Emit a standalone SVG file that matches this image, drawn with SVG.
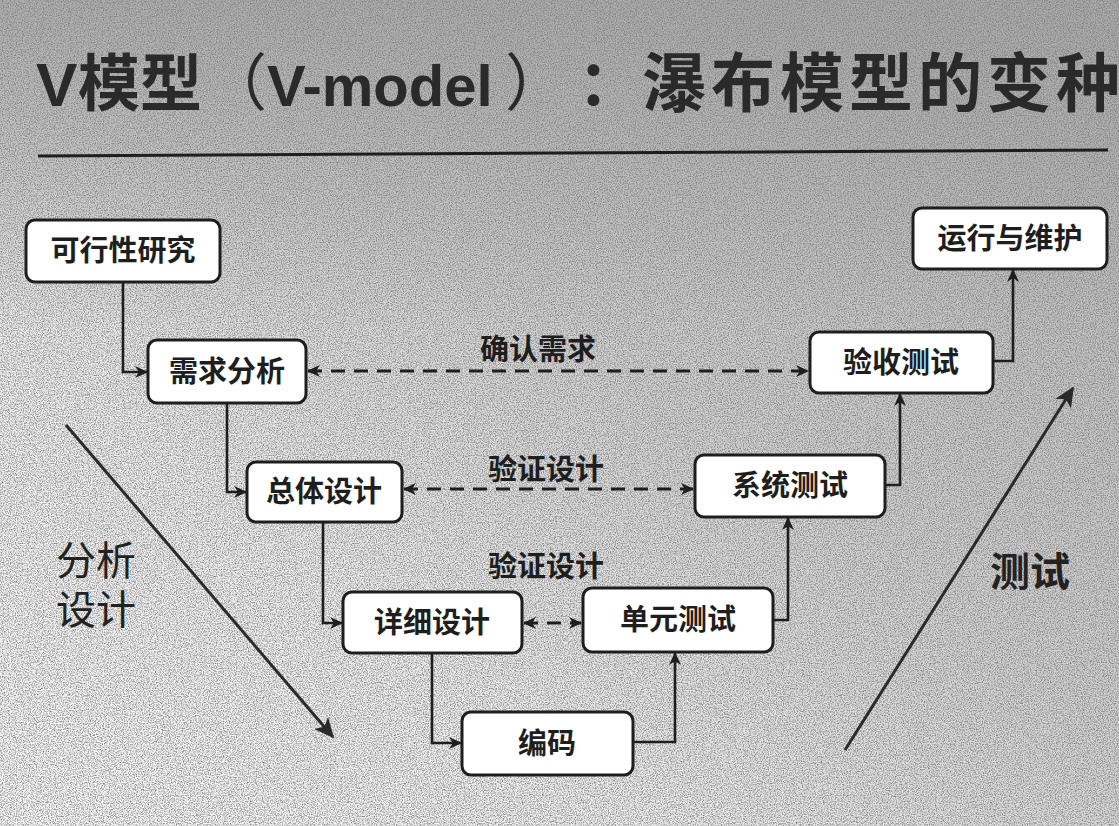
<svg xmlns="http://www.w3.org/2000/svg" width="1119" height="826" viewBox="0 0 1119 826">
<defs>
  <linearGradient id="bg" x1="0" y1="1" x2="1" y2="0">
    <stop offset="0" stop-color="#fafafa"/>
    <stop offset="0.3" stop-color="#ededed"/>
    <stop offset="0.55" stop-color="#d2d2d2"/>
    <stop offset="1" stop-color="#b6b6b6"/>
  </linearGradient>
  <linearGradient id="top" x1="0" y1="0" x2="0" y2="1">
    <stop offset="0" stop-color="#a8a8a8" stop-opacity="0.85"/>
    <stop offset="1" stop-color="#a8a8a8" stop-opacity="0"/>
  </linearGradient>
  <filter id="grain" x="0" y="0" width="100%" height="100%">
    <feTurbulence type="fractalNoise" baseFrequency="0.85" numOctaves="2" seed="3" result="n"/>
    <feColorMatrix in="n" type="matrix" values="0 0 0 0 0.2  0 0 0 0 0.2  0 0 0 0 0.2  0 0 0 -2.2 1.35"/>
  </filter>
  <marker id="arr" viewBox="0 0 12 12" refX="11" refY="6" markerWidth="13" markerHeight="13" markerUnits="userSpaceOnUse" orient="auto-start-reverse">
    <path d="M0,0.5 L12,6 L0,11.5 L3.5,6 z" fill="#1e1e1e"/>
  </marker>
  <marker id="big" viewBox="0 0 12 12" refX="11" refY="6" markerWidth="20" markerHeight="20" markerUnits="userSpaceOnUse" orient="auto">
    <path d="M0,0.5 L12,6 L0,11.5 L3,6 z" fill="#2a2a2a"/>
  </marker>
  <style>
    .box { fill: #ffffff; stroke: #1e1e1e; stroke-width: 3; }
    .lbl { font-family: "Noto Sans CJK SC", "Noto Sans", sans-serif; font-size: 29px; font-weight: 700; fill: #1e1e1e; text-anchor: middle; }
    .conn { fill: none; stroke: #1e1e1e; stroke-width: 2.6; marker-end: url(#arr); }
    .dash { fill: none; stroke: #1e1e1e; stroke-width: 3; stroke-dasharray: 14 9; marker-start: url(#arr); marker-end: url(#arr); }
    .elbl { font-family: "Noto Sans CJK SC", "Noto Sans", sans-serif; font-size: 29px; font-weight: 700; fill: #1e1e1e; text-anchor: middle; }
    .side { font-family: "Noto Sans CJK SC", "Noto Sans", sans-serif; font-size: 40px; fill: #222; }
    .title { font-family: "Liberation Sans", "Noto Sans CJK SC", sans-serif; font-size: 62px; font-weight: 700; fill: #2a2a2a; }
  </style>
</defs>

<rect x="0" y="0" width="1119" height="826" fill="url(#bg)"/>
<rect x="0" y="0" width="1119" height="330" fill="url(#top)"/>
<rect x="0" y="0" width="1119" height="826" filter="url(#grain)"/>

<text class="title" y="106"><tspan x="36">V</tspan><tspan x="78" font-family="Noto Sans CJK SC, sans-serif">模型</tspan><tspan x="205" font-family="Noto Sans CJK SC, sans-serif" font-weight="400">（</tspan><tspan x="267" font-size="58">V-model</tspan><tspan x="505" font-family="Noto Sans CJK SC, sans-serif" font-weight="400">）</tspan><tspan x="578" font-family="Noto Sans CJK SC, sans-serif">：</tspan><tspan x="642" font-family="Noto Sans CJK SC, sans-serif" font-size="64" letter-spacing="5">瀑布模型的变种</tspan></text>
<line x1="38" y1="156" x2="1108" y2="150" stroke="#1e1e1e" stroke-width="3"/>

<g id="connectors">
  <path class="conn" d="M123,282 V372 H147"/>
  <path class="conn" d="M227,403 V492 H246"/>
  <path class="conn" d="M323,522 V623 H342"/>
  <path class="conn" d="M432,653 V743 H461"/>
  <path class="conn" d="M633,742 H675 V653"/>
  <path class="conn" d="M773,620 H788 V518"/>
  <path class="conn" d="M885,485 H900 V394"/>
  <path class="conn" d="M993,361 H1013 V270"/>
  <path class="dash" d="M308,371 H808"/>
  <path class="dash" d="M404,489 H693"/>
  <path class="dash" d="M524,623 H581"/>
  <text class="elbl" x="538" y="360">确认需求</text>
  <text class="elbl" x="546" y="480">验证设计</text>
  <text class="elbl" x="546" y="577">验证设计</text>
  <line x1="66" y1="425" x2="333" y2="737" stroke="#2a2a2a" stroke-width="3" marker-end="url(#big)"/>
  <line x1="845" y1="750" x2="1073" y2="388" stroke="#2a2a2a" stroke-width="3" marker-end="url(#big)"/>
</g>

<g id="n-feasibility"><rect class="box" x="26" y="220" width="194" height="62" rx="9"/><text class="lbl" x="123" y="261">可行性研究</text></g>
<g id="n-requirements"><rect class="box" x="148" y="340" width="158" height="63" rx="9"/><text class="lbl" x="227" y="382">需求分析</text></g>
<g id="n-overall"><rect class="box" x="247" y="462" width="155" height="60" rx="9"/><text class="lbl" x="324" y="502">总体设计</text></g>
<g id="n-detail"><rect class="box" x="343" y="592" width="179" height="61" rx="9"/><text class="lbl" x="432" y="633">详细设计</text></g>
<g id="n-coding"><rect class="box" x="462" y="712" width="171" height="63" rx="9"/><text class="lbl" x="547" y="754">编码</text></g>
<g id="n-unit"><rect class="box" x="583" y="588" width="190" height="64" rx="9"/><text class="lbl" x="678" y="630">单元测试</text></g>
<g id="n-system"><rect class="box" x="695" y="455" width="190" height="62" rx="9"/><text class="lbl" x="790" y="496">系统测试</text></g>
<g id="n-acceptance"><rect class="box" x="810" y="332" width="183" height="61" rx="9"/><text class="lbl" x="901" y="373">验收测试</text></g>
<g id="n-maintenance"><rect class="box" x="913" y="208" width="194" height="61" rx="9"/><text class="lbl" x="1010" y="249">运行与维护</text></g>

<g id="side-labels">
  <text class="side"><tspan x="56" y="575">分析</tspan><tspan x="56" y="624">设计</tspan></text>
  <text class="side" x="990" y="586" font-weight="700">测试</text>
</g>
</svg>
